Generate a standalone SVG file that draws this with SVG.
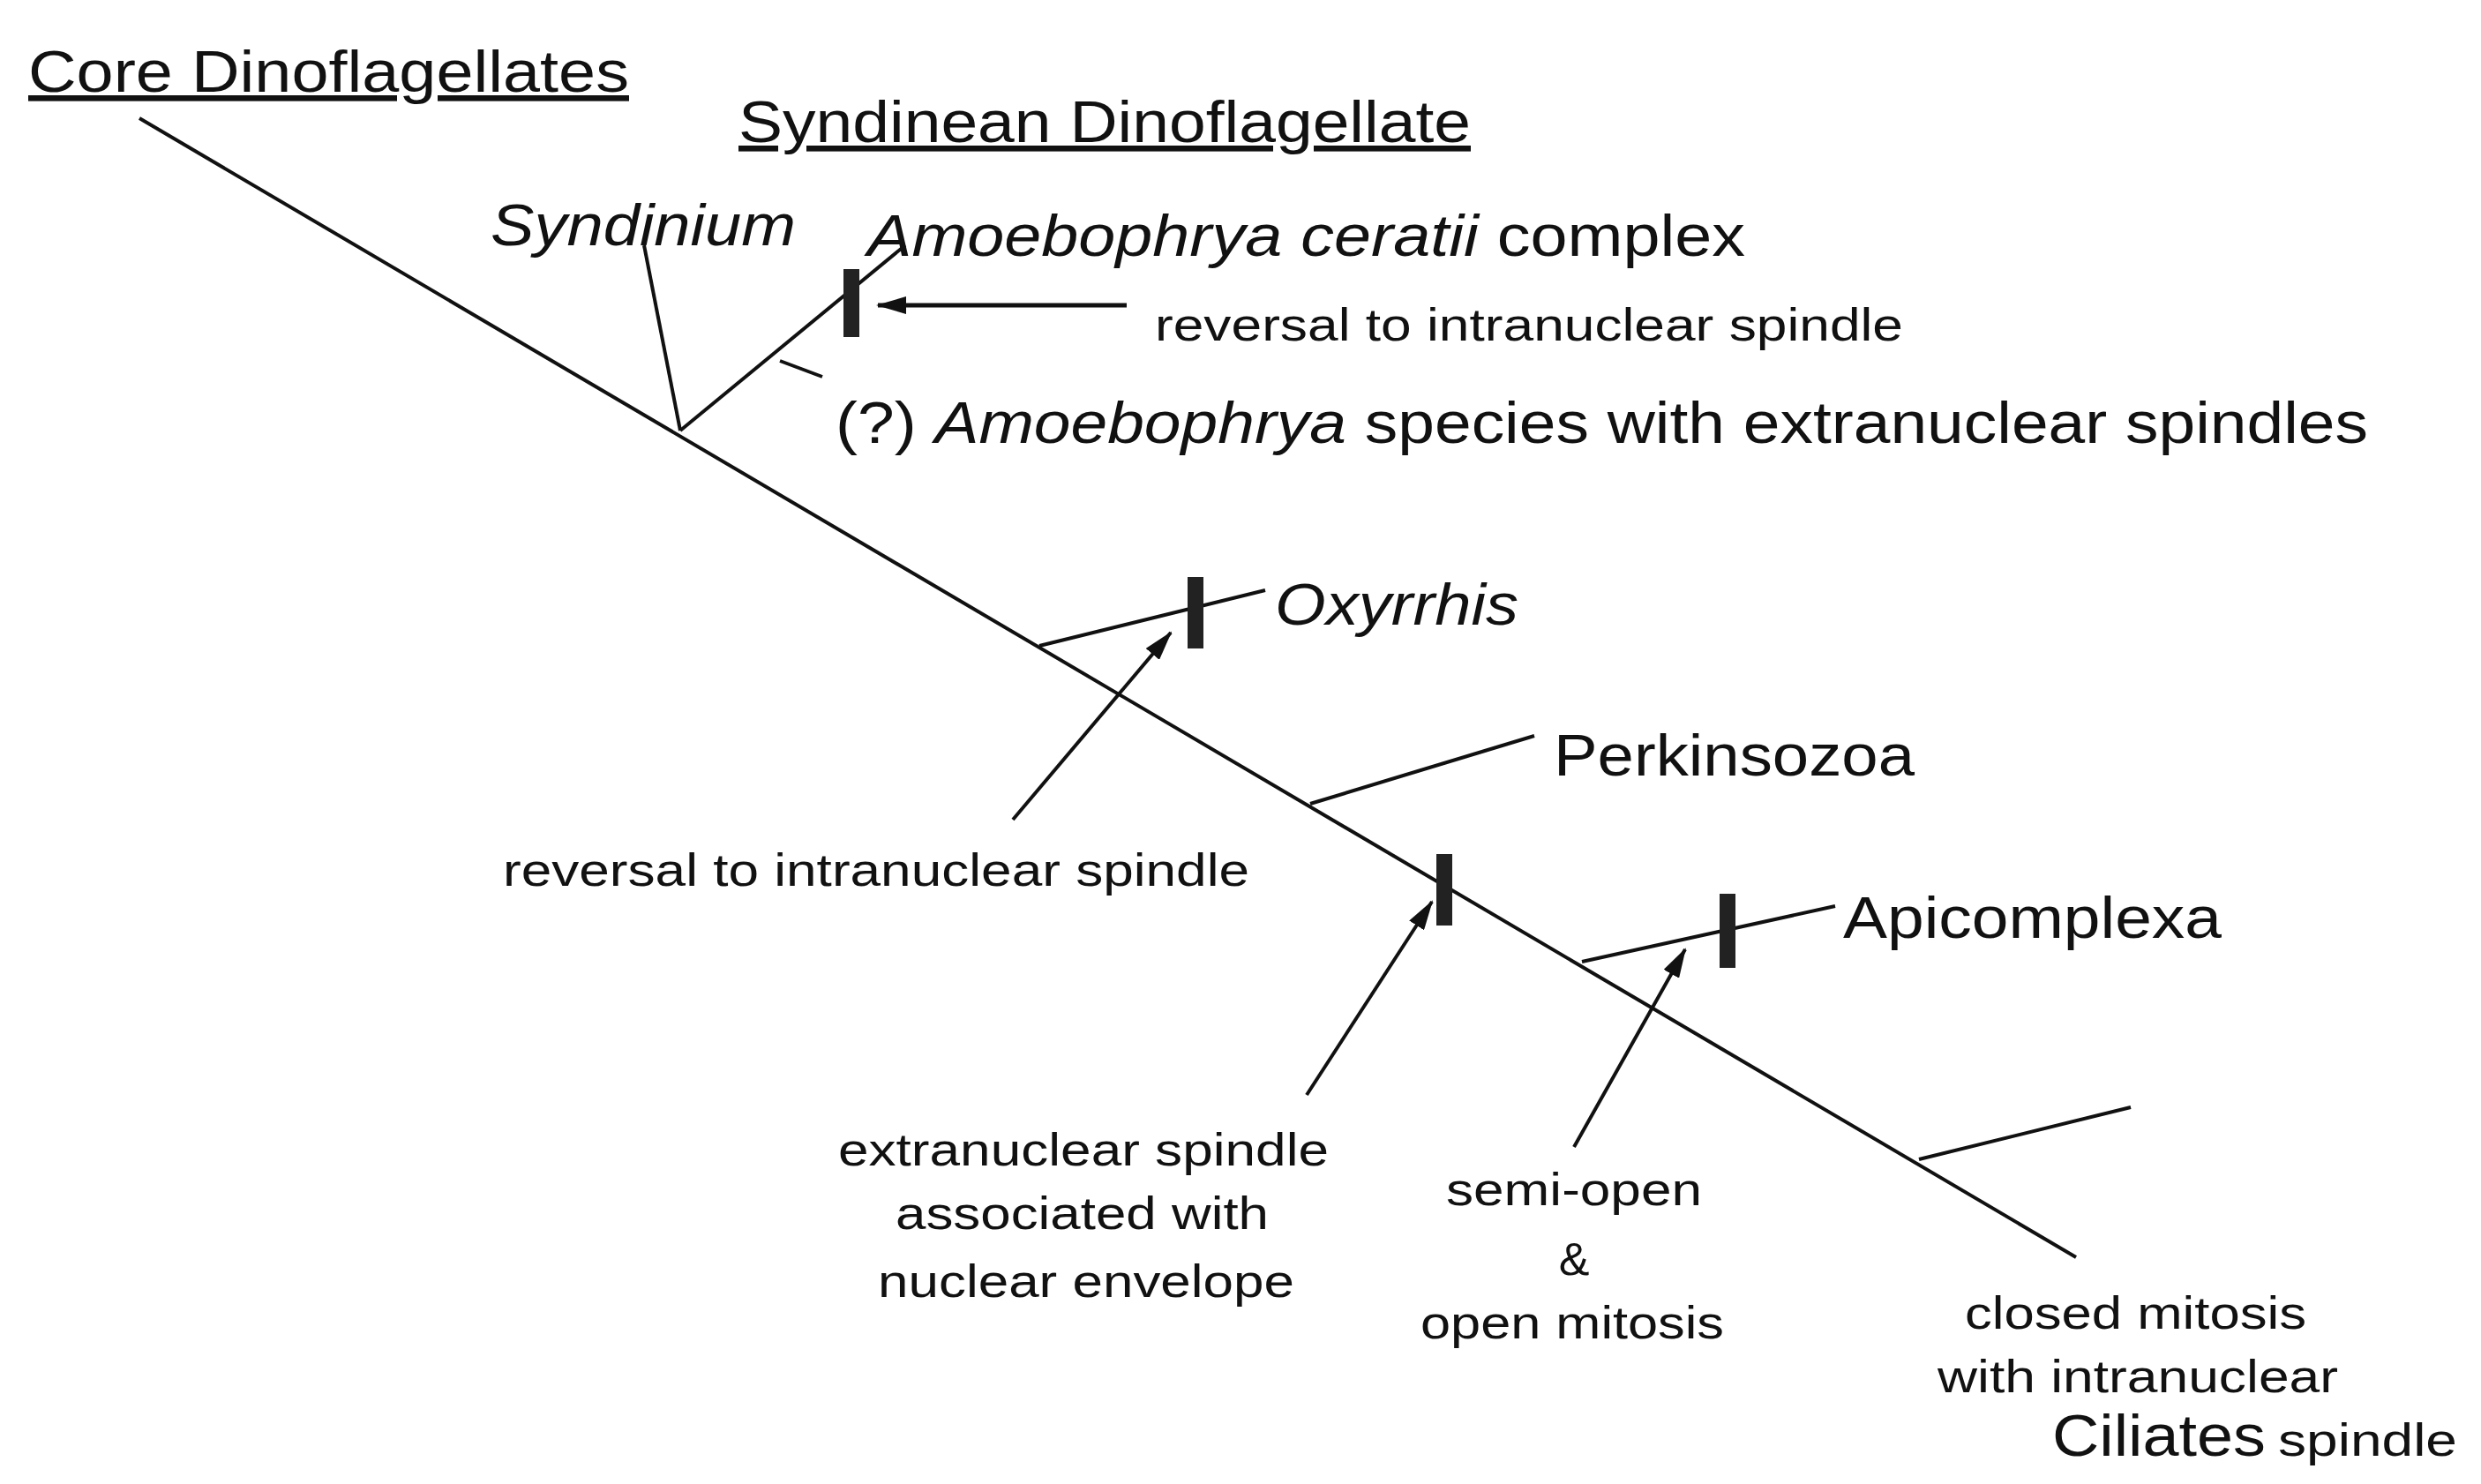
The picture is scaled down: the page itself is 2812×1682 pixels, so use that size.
<svg xmlns="http://www.w3.org/2000/svg" width="2812" height="1682" viewBox="0 0 2812 1682">
<defs>
<style>
.l{stroke:#111;stroke-width:4;fill:none}
.b{stroke:#222;stroke-width:18}
.t{font-family:"Liberation Sans",Arial,sans-serif;fill:#111}
.big{font-size:66px}
.sm{font-size:52px}
.i{font-style:italic}
</style>
<marker id="ah" markerWidth="34" markerHeight="20" refX="32" refY="10" orient="auto" markerUnits="userSpaceOnUse" viewBox="0 0 34 20">
<path d="M0,0 L34,10 L0,20 z" fill="#111"/>
</marker>
</defs>
<rect width="2812" height="1682" fill="#fff"/>
<g id="connectors">
<line class="l" x1="158" y1="134" x2="2353" y2="1425"/>
<line class="l" x1="771" y1="488" x2="730" y2="278"/>
<line class="l" x1="771" y1="488" x2="1026" y2="278"/>
<line class="l" x1="884" y1="409" x2="932" y2="427"/>
<line class="l" x1="1178" y1="732" x2="1434" y2="669"/>
<line class="l" x1="1485" y1="911" x2="1739" y2="834"/>
<line class="l" x1="1793" y1="1090" x2="2080" y2="1027"/>
<line class="l" x1="2175" y1="1314" x2="2415" y2="1255"/>
<line class="l" x1="1277" y1="346" x2="995" y2="346" marker-end="url(#ah)" style="stroke-width:5"/>
<line class="l" x1="1148" y1="929" x2="1327" y2="717" marker-end="url(#ah)"/>
<line class="l" x1="1481" y1="1241" x2="1623" y2="1022" marker-end="url(#ah)"/>
<line class="l" x1="1784" y1="1300" x2="1910" y2="1076" marker-end="url(#ah)"/>
<line class="b" x1="965" y1="305" x2="965" y2="382"/>
<line class="b" x1="1355" y1="654" x2="1355" y2="735"/>
<line class="b" x1="1637" y1="968" x2="1637" y2="1049"/>
<line class="b" x1="1958" y1="1013" x2="1958" y2="1097"/>
</g>
<g id="core"><text class="t big" x="32" y="104" textLength="681" lengthAdjust="spacingAndGlyphs" text-decoration="underline">Core Dinoflagellates</text></g>
<g id="syndinean"><text class="t big" x="837" y="161" textLength="830" lengthAdjust="spacingAndGlyphs" text-decoration="underline">Syndinean Dinoflagellate</text></g>
<g id="syndinium"><text class="t big i" x="556" y="278" textLength="346" lengthAdjust="spacingAndGlyphs">Syndinium</text></g>
<g id="amoebophrya"><text class="t big" x="983" y="290" textLength="995" lengthAdjust="spacingAndGlyphs"><tspan class="i">Amoebophrya ceratii</tspan> complex</text></g>
<g id="rev1"><text class="t sm" x="1309" y="386" textLength="848" lengthAdjust="spacingAndGlyphs">reversal to intranuclear spindle</text></g>
<g id="amoebo2"><text class="t big" x="947" y="502" textLength="1737" lengthAdjust="spacingAndGlyphs">(?) <tspan class="i">Amoebophrya</tspan> species with extranuclear spindles</text></g>
<g id="oxyrrhis"><text class="t big i" x="1445" y="708" textLength="276" lengthAdjust="spacingAndGlyphs">Oxyrrhis</text></g>
<g id="rev2"><text class="t sm" x="570" y="1004" textLength="846" lengthAdjust="spacingAndGlyphs">reversal to intranuclear spindle</text></g>
<g id="perkinsozoa"><text class="t big" x="1761" y="879" textLength="409" lengthAdjust="spacingAndGlyphs">Perkinsozoa</text></g>
<g id="apicomplexa"><text class="t big" x="2089" y="1063" textLength="429" lengthAdjust="spacingAndGlyphs">Apicomplexa</text></g>
<g id="extra"><text class="t sm" x="950" y="1321" textLength="556" lengthAdjust="spacingAndGlyphs">extranuclear spindle</text><text class="t sm" x="1015" y="1393" textLength="423" lengthAdjust="spacingAndGlyphs">associated with</text><text class="t sm" x="995" y="1470" textLength="472" lengthAdjust="spacingAndGlyphs">nuclear envelope</text></g>
<g id="semi"><text class="t sm" x="1639" y="1366" textLength="290" lengthAdjust="spacingAndGlyphs">semi-open</text><text class="t sm" x="1784" y="1445" text-anchor="middle">&amp;</text><text class="t sm" x="1610" y="1517" textLength="344" lengthAdjust="spacingAndGlyphs">open mitosis</text></g>
<g id="closed"><text class="t sm" x="2227" y="1506" textLength="387" lengthAdjust="spacingAndGlyphs">closed mitosis</text><text class="t sm" x="2196" y="1578" textLength="454" lengthAdjust="spacingAndGlyphs">with intranuclear</text></g>
<g id="ciliates"><text class="t big" x="2326" y="1650" textLength="242" lengthAdjust="spacingAndGlyphs">Ciliates</text><text class="t sm" x="2582" y="1650" textLength="203" lengthAdjust="spacingAndGlyphs">spindle</text></g>
</svg>
